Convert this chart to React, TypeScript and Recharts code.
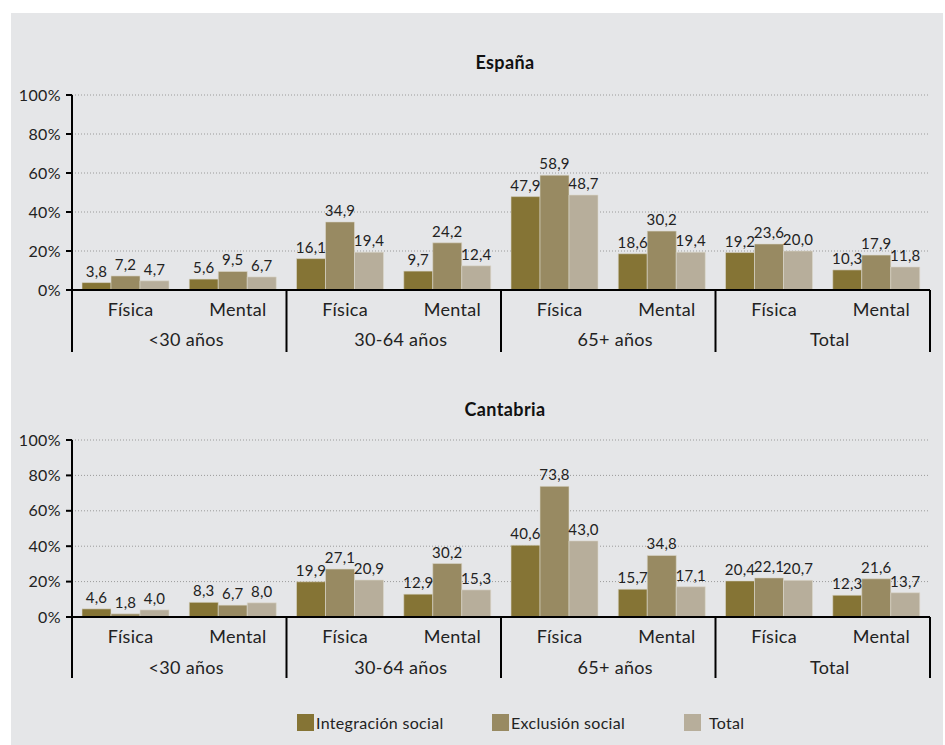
import React from "react";
import { BarChart, Bar, XAxis, YAxis, CartesianGrid, LabelList } from "recharts";

const categories = ["Física", "Mental", "Física", "Mental", "Física", "Mental", "Física", "Mental"];
const groups = ["<30 años", "30-64 años", "65+ años", "Total"];
const yTicks = [0, 20, 40, 60, 80, 100];
const seriesNames = ["Integración social", "Exclusión social", "Total"];
const seriesColors = ["#857435", "#988a62", "#b7ae9b"];

const espIntegracion = [3.8, 5.6, 16.1, 9.7, 47.9, 18.6, 19.2, 10.3];
const espExclusion = [7.2, 9.5, 34.9, 24.2, 58.9, 30.2, 23.6, 17.9];
const espTotal = [4.7, 6.7, 19.4, 12.4, 48.7, 19.4, 20.0, 11.8];

const canIntegracion = [4.6, 8.3, 19.9, 12.9, 40.6, 15.7, 20.4, 12.3];
const canExclusion = [1.8, 6.7, 27.1, 30.2, 73.8, 34.8, 22.1, 21.6];
const canTotal = [4.0, 8.0, 20.9, 15.3, 43.0, 17.1, 20.7, 13.7];

const FONT = "Lato, 'Open Sans', sans-serif";
const TEXT = "#222";

const buildData = (a: number[], b: number[], c: number[]) =>
  categories.map((cat, i) => ({ cat, idx: i, a: a[i], b: b[i], c: c[i] }));

const fmt = (v: any) => Number(v).toFixed(1).replace(".", ",");

const makeTick = (bw: number, groupDy: number, lineLen: number) => (props: any) => {
  const { x, y, payload, index } = props;
  const i = payload && typeof payload.index === "number" ? payload.index : index;
  const half = bw / 2;
  const top = y - 8;
  return (
    <g>
      <text x={x + 5} y={top + 26} textAnchor="middle" fontSize={18} fill={TEXT} fontFamily={FONT} letterSpacing={0.3}>
        {categories[i]}
      </text>
      {i % 2 === 0 && (
        <line x1={x - half} x2={x - half} y1={top} y2={top + lineLen} stroke="#000" strokeWidth={2} />
      )}
      {i % 2 === 1 && (
        <text x={x - half + 7} y={top + groupDy} textAnchor="middle" fontSize={18} fill={TEXT} fontFamily={FONT} letterSpacing={0.3}>
          {groups[(i - 1) / 2]}
        </text>
      )}
      {i === categories.length - 1 && (
        <line x1={x + half} x2={x + half} y1={top} y2={top + lineLen} stroke="#000" strokeWidth={2} />
      )}
    </g>
  );
};

const Panel = ({ data, top, height, groupDy, lineLen }: any) => {
  const width = 945;
  const left = 72;
  const right = 15;
  const bw = (width - left - right) / categories.length;
  return (
    <div style={{ position: "absolute", left: 0, top }}>
      <BarChart
        width={width}
        height={height}
        data={data}
        margin={{ top: 15, right, left: 0, bottom: 0 }}
        barCategoryGap={10}
        barGap={0}
      >
        <CartesianGrid vertical={false} stroke="#9a9a9a" strokeDasharray="1 2" />
        <XAxis
          dataKey="idx"
          type="category"
          interval={0}
          height={70}
          axisLine={{ stroke: "#000", strokeWidth: 2 }}
          tickLine={false}
          tickSize={0}
          tickMargin={8}
          tick={makeTick(bw, groupDy, lineLen)}
        />
        <YAxis
          width={72}
          domain={[0, 100]}
          ticks={yTicks}
          interval={0}
          tickFormatter={(v: number) => `${v}%`}
          axisLine={{ stroke: "#000", strokeWidth: 2 }}
          tickLine={{ stroke: "#000", strokeWidth: 2 }}
          tickSize={6}
          tickMargin={5}
          tick={{ fontSize: 16, fill: TEXT, fontFamily: FONT, letterSpacing: 0.4 }}
        />
        {["a", "b", "c"].map((k, i) => (
          <Bar key={k} dataKey={k} fill={seriesColors[i]} stroke="#dcd8cc" strokeWidth={0.6} isAnimationActive={false}>
            <LabelList
              dataKey={k}
              position="top"
              offset={6}
              formatter={fmt}
              style={{ fontSize: 15, fill: TEXT, fontFamily: FONT, letterSpacing: 0.3 }}
            />
          </Bar>
        ))}
      </BarChart>
    </div>
  );
};

export default function App() {
  const esp = buildData(espIntegracion, espExclusion, espTotal);
  const can = buildData(canIntegracion, canExclusion, canTotal);
  return (
    <div style={{ position: "absolute", left: 0, top: 0, width: 945, height: 745, background: "#fff", fontFamily: FONT }}>
      <div style={{ position: "absolute", left: 11, top: 13, width: 932, height: 732, background: "#e5e6e8" }} />
      <div style={{ position: "absolute", left: 405, width: 200, top: 51, textAlign: "center", fontWeight: 700, fontSize: 18, color: "#111", letterSpacing: 0.4 }}>
        España
      </div>
      <Panel data={esp} top={80} height={280} groupDy={56} lineLen={62} />
      <div style={{ position: "absolute", left: 405, width: 200, top: 398, textAlign: "center", fontWeight: 700, fontSize: 18, color: "#111", letterSpacing: 0.4 }}>
        Cantabria
      </div>
      <Panel data={can} top={425} height={262} groupDy={57} lineLen={61} />
      <div style={{ position: "absolute", left: 0, top: 713, width: 945, height: 20 }}>
        {seriesNames.map((n, i) => (
          <div key={n} style={{ position: "absolute", left: [297, 492, 684][i], top: 0, display: "flex", alignItems: "center" }}>
            <div style={{ width: 17, height: 17, background: seriesColors[i], marginRight: i === 2 ? 8 : 2 }} />
            <span style={{ fontSize: 16, color: TEXT, letterSpacing: 0.3 }}>{n}</span>
          </div>
        ))}
      </div>
    </div>
  );
}
